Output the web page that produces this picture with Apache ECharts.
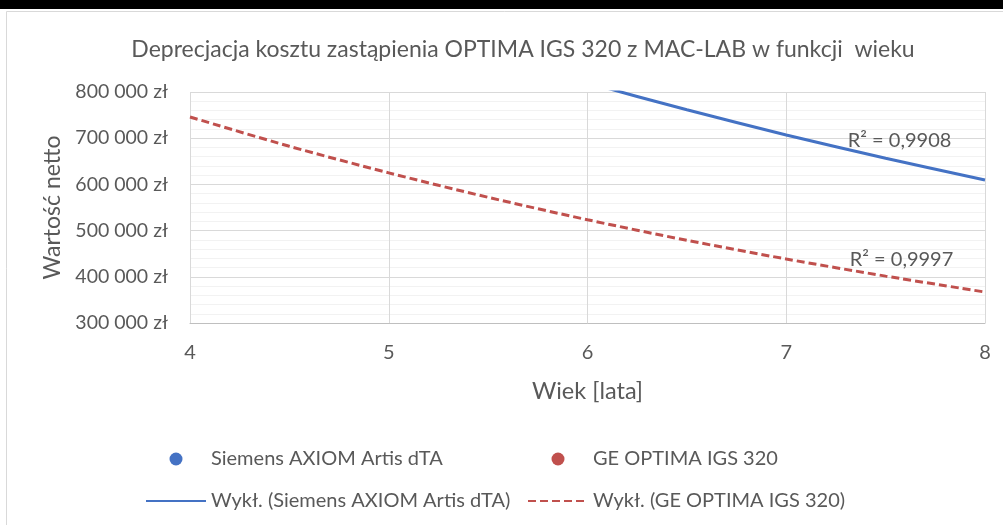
<!DOCTYPE html>
<html>
<head>
<meta charset="utf-8">
<script src="https://cdn.jsdelivr.net/npm/echarts@6/dist/echarts.min.js"></script>
<style>
html,body{margin:0;padding:0;background:#fff;}
#chart{width:1003px;height:525px;}
</style>
</head>
<body>
<div id="chart"></div>
<script>
// ---- data ----
const titleText = 'Deprecjacja kosztu zastąpienia OPTIMA IGS 320 z MAC-LAB w funkcji  wieku';
const xAxisName = 'Wiek [lata]';
const yAxisName = 'Wartość netto';
const seriesNames = ['Siemens AXIOM Artis dTA', 'GE OPTIMA IGS 320'];
const trendNames = ['Wykł. (Siemens AXIOM Artis dTA)', 'Wykł. (GE OPTIMA IGS 320)'];
const siemensPoints = [];
const gePoints = [];
const trendX = [4, 4.5, 5, 5.5, 6, 6.5, 7, 7.5, 8];
const siemensTrend = [1104000, 1025000, 952000, 883000, 820000, 761500, 707000, 656500, 609500];
const geTrend = [746000, 682500, 625000, 572000, 523500, 479000, 438500, 401500, 367000];
const r2Labels = ['R² = 0,9908', 'R² = 0,9997'];
const r2Pos = [[7.57, 696000], [7.58, 436500]];
const xMin = 4, xMax = 8, xStep = 1;
const yMin = 300000, yMax = 800000, yStep = 100000;

const FONT = 'Lato';
const TXT = '#595959';
const BLUE = '#4472C4';
const RED = '#C0504D';

function fmtZl(v) {
  return String(v).replace(/\B(?=(\d{3})+(?!\d))/g, ' ') + ' zł';
}
function pairs(xs, ys) { return xs.map((x, i) => [x, ys[i]]); }

function r2Mark(text, pos) {
  return {
    symbol: 'circle', symbolSize: 1, silent: true,
    itemStyle: {color: 'rgba(0,0,0,0)'},
    label: {show: true, formatter: text, fontFamily: FONT, fontSize: 20, color: TXT, position: 'inside'},
    data: [{coord: pos, value: 0}]
  };
}

const chart = echarts.init(document.getElementById('chart'), null, {renderer: 'canvas'});
chart.setOption({
  animation: false,
  backgroundColor: '#fff',
  textStyle: {fontFamily: FONT, color: TXT},
  graphic: [
    {type: 'rect', left: 0, top: 0, shape: {width: 1003, height: 9}, style: {fill: '#000'}, silent: true},
    {type: 'polyline', shape: {points: [[6.5, 525], [6.5, 11.5], [1003, 11.5]]}, style: {stroke: '#D9D9D9', lineWidth: 1, fill: null}, silent: true}
  ],
  title: {
    text: titleText,
    left: 518, textAlign: 'center', top: 33,
    textStyle: {fontFamily: FONT, fontSize: 23, fontWeight: 'normal', color: TXT}
  },
  legend: [
    {
      orient: 'vertical', left: 140, top: 444, itemWidth: 60, itemHeight: 13, itemGap: 22,
      textStyle: {fontFamily: FONT, fontSize: 20, color: TXT},
      data: [{name: seriesNames[0], icon: 'circle'}, {name: trendNames[0], itemStyle: {opacity: 0}}]
    },
    {
      orient: 'vertical', left: 522, top: 444, itemWidth: 60, itemHeight: 13, itemGap: 22,
      textStyle: {fontFamily: FONT, fontSize: 20, color: TXT},
      data: [{name: seriesNames[1], icon: 'circle'}, {name: trendNames[1], itemStyle: {opacity: 0}}]
    }
  ],
  grid: {left: 190, right: 18, top: 92, bottom: 202, containLabel: false},
  xAxis: {
    type: 'value', min: xMin, max: xMax, interval: xStep,
    name: xAxisName, nameLocation: 'middle', nameGap: 56,
    nameTextStyle: {fontFamily: FONT, fontSize: 23.5, color: TXT},
    axisLine: {show: true, lineStyle: {color: '#BFBFBF', width: 1}},
    axisTick: {show: false},
    axisLabel: {fontFamily: FONT, fontSize: 20, color: TXT, margin: 20},
    splitLine: {show: true, lineStyle: {color: '#D9D9D9', width: 1}}
  },
  yAxis: {
    type: 'value', min: yMin, max: yMax, interval: yStep,
    name: yAxisName, nameLocation: 'middle', nameGap: 124,
    nameTextStyle: {fontFamily: FONT, fontSize: 23, color: TXT},
    axisLine: {show: false},
    axisTick: {show: false},
    axisLabel: {fontFamily: FONT, fontSize: 19.5, color: TXT, margin: 22, formatter: fmtZl},
    splitLine: {show: true, lineStyle: {color: '#D9D9D9', width: 1}},
    minorTick: {show: false, splitNumber: 5},
    minorSplitLine: {show: true, lineStyle: {color: '#F2F2F2', width: 1}}
  },
  series: [
    {name: seriesNames[0], type: 'scatter', data: siemensPoints, itemStyle: {color: BLUE, opacity: 1}, symbolSize: 10},
    {name: seriesNames[1], type: 'scatter', data: gePoints, itemStyle: {color: RED, opacity: 1}, symbolSize: 10},
    {
      name: trendNames[0], type: 'line', data: pairs(trendX, siemensTrend), smooth: 0.3,
      symbol: 'none', clip: true, color: BLUE,
      lineStyle: {color: BLUE, width: 3, type: 'solid'},
      markPoint: r2Mark(r2Labels[0], r2Pos[0])
    },
    {
      name: trendNames[1], type: 'line', data: pairs(trendX, geTrend), smooth: 0.3,
      symbol: 'none', clip: true, color: RED,
      lineStyle: {color: RED, width: 3, type: [8, 4]},
      markPoint: r2Mark(r2Labels[1], r2Pos[1])
    }
  ]
});
</script>
</body>
</html>
